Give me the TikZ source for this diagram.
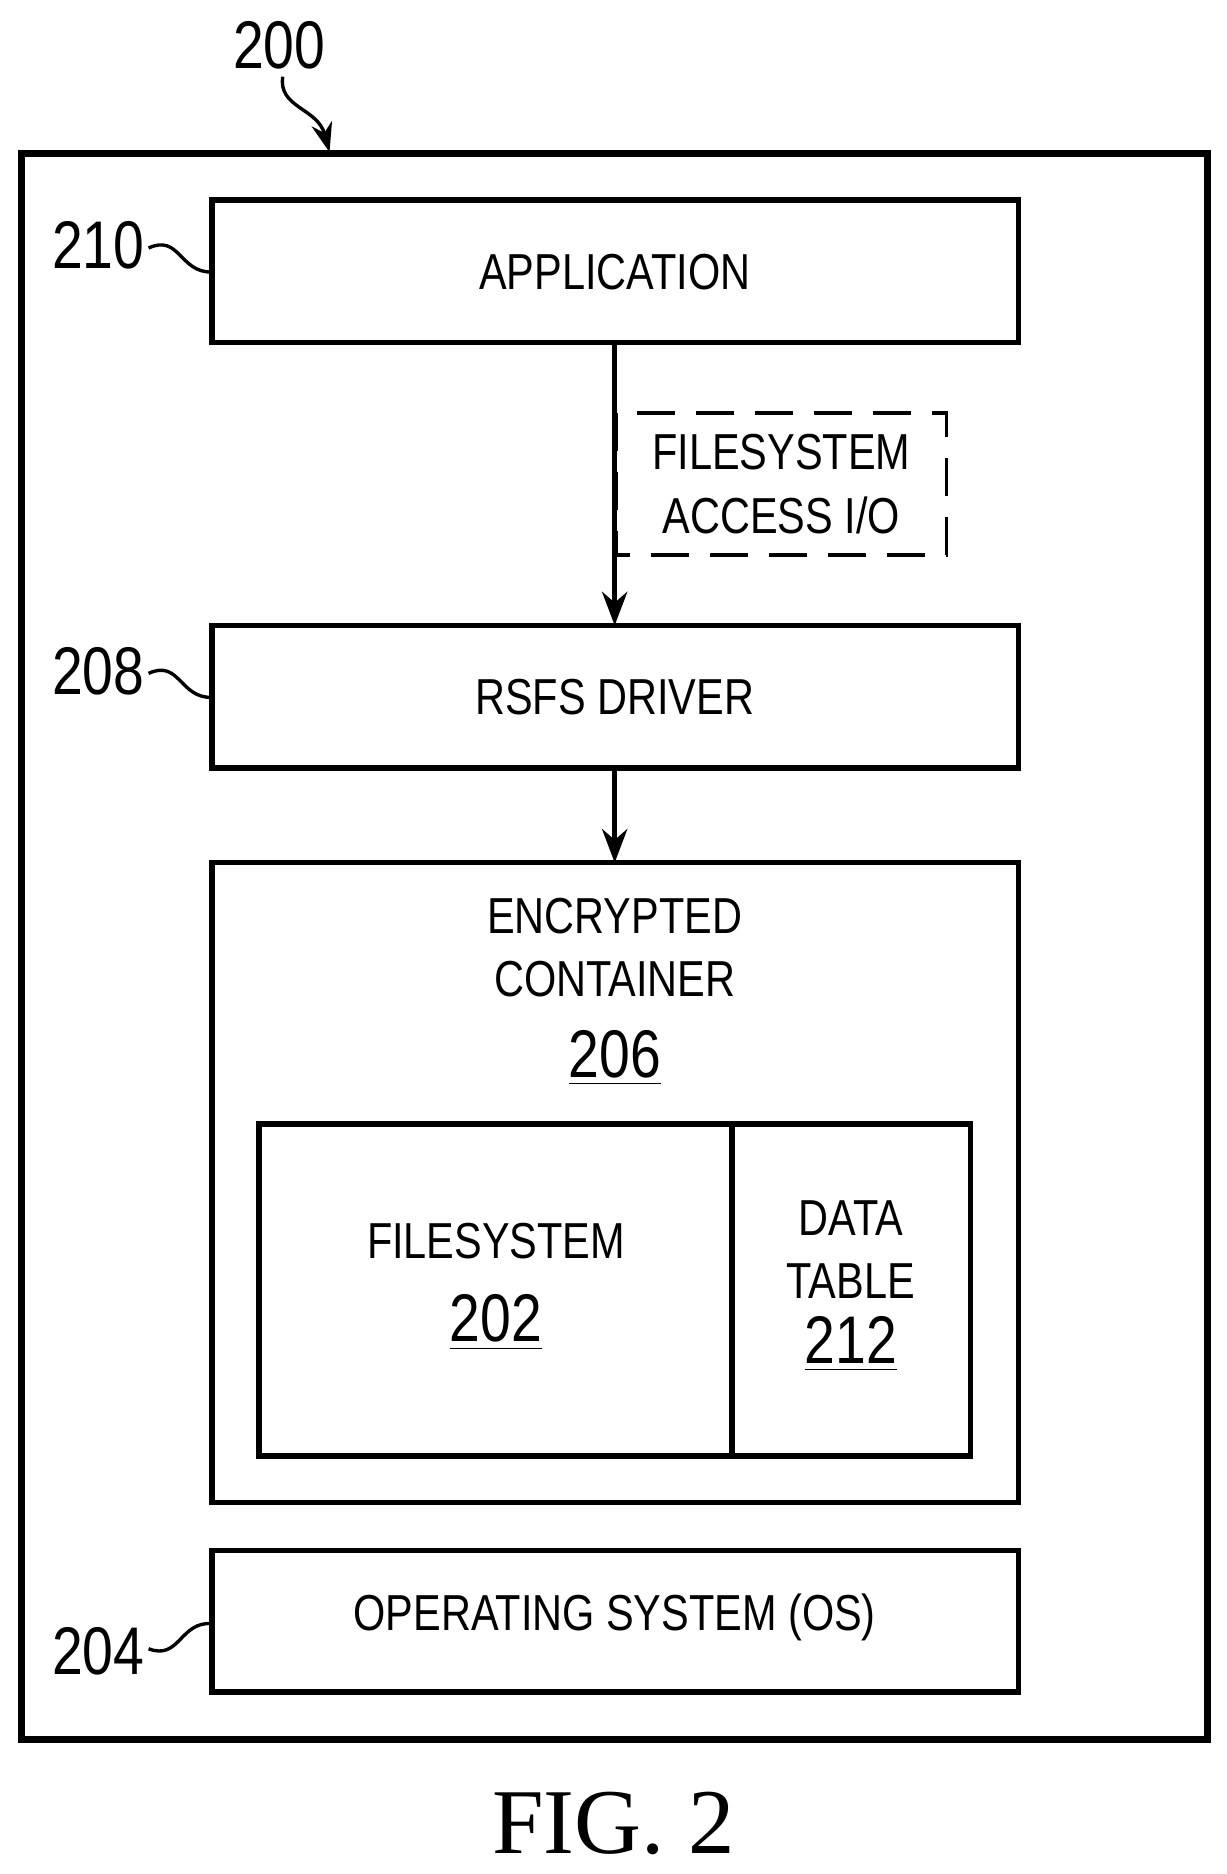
\documentclass[tikz,border=0pt]{standalone}
\usepackage{fontspec}
\setmainfont[FakeStretch=0.82]{Liberation Sans}
\newfontfamily\figfont{Liberation Serif}
\usetikzlibrary{arrows.meta, positioning}
\tikzset{
  blk/.style={draw, line width=1.3pt},
  lbl/.style={font=\fontsize{12}{15}\selectfont, align=center},
  refnum/.style={font=\fontsize{16}{18}\selectfont},
  flow/.style={line width=1.1pt, -{Stealth[length=8pt,width=6pt]}},
  lead/.style={line width=0.8pt}
}
\begin{document}
\begin{tikzpicture}[x=0.01cm, y=-0.01cm]
  \useasboundingbox (0,0) rectangle (1024,1564);
  % outer frame
  \draw[blk, line width=1.6pt] (18,128) rectangle (1008,1452);
  % blocks
  \draw[blk] (177,167) rectangle (850,286);
  \node[lbl] (app) at (513,227) {APPLICATION};
  \draw[blk] (177,522) rectangle (850,641);
  \node[lbl] (drv) at (513,582) {RSFS DRIVER};
  \draw[blk] (177,720) rectangle (850,1254);
  \node[lbl] (enc) at (513,791) {ENCRYPTED\\[0pt]CONTAINER};
  \node[refnum] (n206) at (513,883) {\underline{206}};
  \draw[blk] (216,938) rectangle (611,1215);
  \draw[blk] (611,938) rectangle (810,1215);
  \node[lbl] (fs) at (414,1036) {FILESYSTEM};
  \node[refnum] (n202) at (414,1104) {\underline{202}};
  \node[lbl] (dt) at (710,1043) {DATA\\[0pt]TABLE};
  \node[refnum] (n212) at (710,1122) {\underline{212}};
  \draw[blk] (177,1294) rectangle (850,1412);
  \node[lbl] (os) at (513,1350) {OPERATING SYSTEM (OS)};
  % dashed annotation
  \draw[line width=0.9pt, dash pattern=on 9pt off 5pt] (514,345) rectangle (790,463);
  \node[lbl] (io) at (652,404) {FILESYSTEM\\[0pt]ACCESS I/O};
  % connectors
  \coordinate (a1) at (513,286); \coordinate (a2) at (513,522);
  \coordinate (b1) at (513,641); \coordinate (b2) at (513,720);
  \draw[flow] (a1) -- (a2);
  \draw[flow] (b1) -- (b2);
  % reference numerals
  \node[refnum] (r200) at (233,38) {200};
  \coordinate (t200) at (275,127);
  \draw[lead, -{Stealth[length=7pt,width=5pt]}] (236,64) .. controls (232,90) and (265,90) .. (t200);
  \node[refnum] (r210) at (82,205) {210};
  \draw[lead] (124,207) .. controls (150,195) and (150,228) .. (177,227);
  \node[refnum] (r208) at (82,560) {208};
  \draw[lead] (124,562) .. controls (150,550) and (150,583) .. (177,582);
  \node[refnum] (r204) at (82,1378) {204};
  \draw[lead] (124,1376) .. controls (150,1386) and (150,1353) .. (177,1355);
  % caption
  \node[font=\figfont\fontsize{22}{24}\selectfont, inner sep=1pt] (cap) at (512,1522) {FIG. 2};
\end{tikzpicture}
\end{document}
